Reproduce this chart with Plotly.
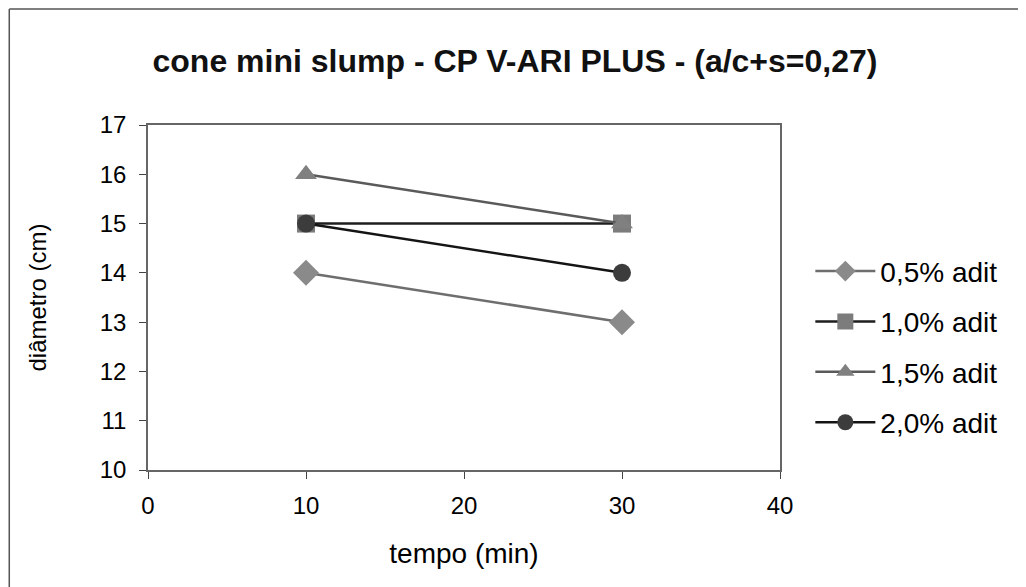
import plotly.graph_objects as go

tempo = [10, 30]
series_names = ["0,5% adit", "1,0% adit", "1,5% adit", "2,0% adit"]
d_05 = [14, 13]
d_10 = [15, 15]
d_15 = [16, 15]
d_20 = [15, 14]
x_ticks = [0, 10, 20, 30, 40]
y_ticks = [10, 11, 12, 13, 14, 15, 16, 17]

styles = [
    dict(symbol="diamond", mcolor="#8a8a8a", lcolor="#6e6e6e", size=20),
    dict(symbol="square", mcolor="#7c7c7c", lcolor="#1e1e1e", size=18),
    dict(symbol="triangle-up", mcolor="#808080", lcolor="#5a5a5a", size=19),
    dict(symbol="circle", mcolor="#3c3c3c", lcolor="#141414", size=18),
]

fig = go.Figure()
for name, vals, st in zip(series_names, [d_05, d_10, d_15, d_20], styles):
    fig.add_trace(go.Scatter(
        x=tempo, y=vals, name=name, mode="lines+markers",
        legendgroup=name,
        line=dict(color=st["lcolor"], width=2.5),
        marker=dict(symbol=st["symbol"], size=st["size"], color=st["mcolor"],
                    line=dict(width=0)),
    ))

font = "Liberation Sans, Arial, sans-serif"
W, H = 1100, 650
L, T = 140, 117
PW, PH = 632, 345
border = dict(color="#555", width=1.5)
fig.update_layout(
    width=W, height=H,
    margin=dict(l=L, r=W - L - PW, t=T, b=H - T - PH),
    paper_bgcolor="white", plot_bgcolor="white",
    font=dict(family=font, size=24, color="black"),
    title=dict(text="<b>cone mini slump - CP V-ARI PLUS - (a/c+s=0,27)</b>",
               x=507 / W, xanchor="center", y=1 - 53 / H, yanchor="middle",
               font=dict(size=32, color="#111")),
    showlegend=True,
    legend=dict(x=1.048, xanchor="left", y=0.357, yanchor="middle",
                tracegroupgap=11, font=dict(size=28),
                itemwidth=60, bgcolor="rgba(0,0,0,0)"),
    shapes=[
        dict(type="line", xref="paper", yref="paper",
             x0=-0.2195, x1=1.7, y0=1.336, y1=1.336, line=border, layer="below"),
        dict(type="line", xref="paper", yref="paper",
             x0=-0.2195, x1=-0.2195, y0=-0.7, y1=1.336, line=border, layer="below"),
    ],
)
fig.update_xaxes(range=[0, 40], tickvals=x_ticks, showgrid=False, zeroline=False,
                 showline=True, linecolor="#666", linewidth=1.5, mirror=True,
                 ticks="outside", ticklen=7, tickcolor="#444",
                 ticklabelstandoff=6, tickfont=dict(size=24),
                 title=dict(text="tempo (min)", standoff=26, font=dict(size=28)))
fig.update_yaxes(range=[10, 17], tickvals=y_ticks, showgrid=False, zeroline=False,
                 showline=True, linecolor="#666", linewidth=1.5, mirror=True,
                 ticks="outside", ticklen=7, tickcolor="#444",
                 ticklabelstandoff=8, tickfont=dict(size=24),
                 title=dict(text="diâmetro (cm)", standoff=46, font=dict(size=24)))

fig.write_html("out.html")
